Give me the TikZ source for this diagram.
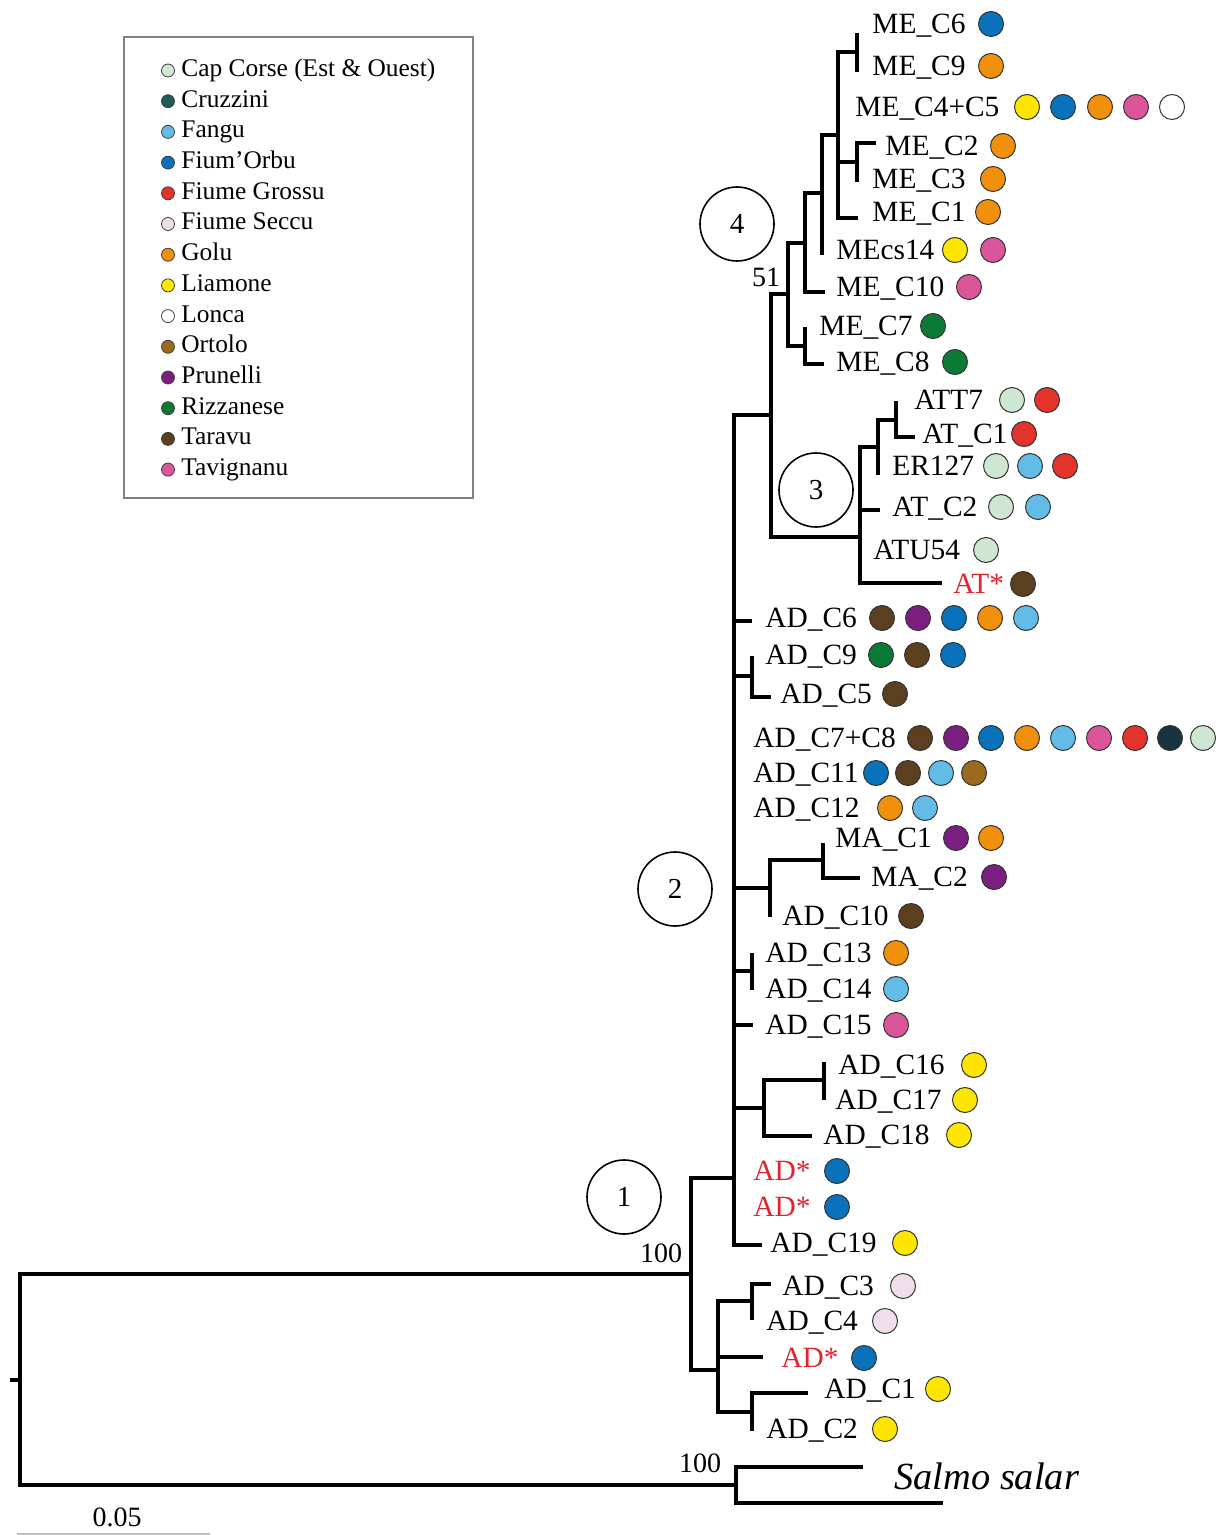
\documentclass[tikz,border=0pt]{standalone}
\usepackage{fontspec}
\setmainfont{Liberation Serif}
\definecolor{capc}{HTML}{CFE6D2}
\definecolor{cruzL}{HTML}{1F5C56}
\definecolor{cruzT}{HTML}{183340}
\definecolor{fangu}{HTML}{62BCE6}
\definecolor{fiumo}{HTML}{0A72BA}
\definecolor{grossu}{HTML}{E3332B}
\definecolor{seccu}{HTML}{F0DFEA}
\definecolor{golu}{HTML}{F0900C}
\definecolor{liam}{HTML}{FFE600}
\definecolor{lonca}{HTML}{FFFFFF}
\definecolor{ortolo}{HTML}{9A6A1E}
\definecolor{prun}{HTML}{7A1F80}
\definecolor{rizz}{HTML}{0C7A37}
\definecolor{tarav}{HTML}{5B3F1F}
\definecolor{tavig}{HTML}{DB559B}
\definecolor{adred}{HTML}{E0242E}
\newcommand\redtxt[1]{\textcolor{adred}{#1}}
\tikzset{
  branch/.style={line width=1.6pt, black},
  lbl/.style={anchor=west, inner sep=0pt, font=\fontsize{14.7}{16}\selectfont, text height=9.7pt, text depth=0pt},
  dot/.style={circle, draw=black!80, line width=0.5pt, minimum size=12.5pt, inner sep=0pt},
  legdot/.style={circle, draw=black!75, line width=0.4pt, minimum size=6.5pt, inner sep=0pt},
  legtxt/.style={anchor=west, inner sep=0pt, font=\fontsize{12.7}{14}\selectfont, text height=8.4pt, text depth=0pt},
  legframe/.style={draw=black!50, line width=0.6pt, minimum width=174.5pt, minimum height=230.5pt, inner sep=0pt},
  boot/.style={inner sep=0pt, font=\fontsize{14}{16}\selectfont},
  clade/.style={circle, draw, line width=0.8pt, minimum size=37pt, inner sep=0pt, font=\fontsize{14.5}{16}\selectfont}
}
\newcommand\leaf[5]{%
  \node[lbl] (#1) at (#2,#3) {#4};
  \foreach \cx/\cc [count=\i from 1] in {#5} {\node[dot, fill=\cc] (#1-\i) at (\cx,#3) {};}
}
\begin{document}
\begin{tikzpicture}[x=0.5pt, y=-0.5pt]
\useasboundingbox (0,0) rectangle (1228,1535);

% ---------- legend ----------
\node[legframe] (legend) at (298.5,267.5) {};
\foreach \t/\c [count=\i from 1] in {Cap Corse (Est \& Ouest)/capc, Cruzzini/cruzL, Fangu/fangu, Fium’Orbu/fiumo, Fiume Grossu/grossu, Fiume Seccu/seccu, Golu/golu, Liamone/liam, Lonca/lonca, Ortolo/ortolo, Prunelli/prun, Rizzanese/rizz, Taravu/tarav, Tavignanu/tavig} {
  \node[legdot, fill=\c] (ld\i) at ({168},{68+30.7*(\i-1)+2.5}) {};
  \node[legtxt] (lt\i) at ({181},{68+30.7*(\i-1)}) {\t};
}

% ---------- tree coordinates ----------
\coordinate (rtk) at (10,1380);
\coordinate (rt) at (20,1380);
\coordinate (ing) at (691,1274);
\coordinate (outg) at (736,1485);
\coordinate (salT) at (863,1467);
\coordinate (salB) at (943,1503);
\coordinate (c2) at (734,1178);
\coordinate (cL) at (718,1370);
\coordinate (c34) at (771,415);
\coordinate (t6) at (752,621);
\coordinate (c95) at (752,676);
\coordinate (t9) at (752,656);
\coordinate (t5) at (771,697);
\coordinate (cma) at (770,888);
\coordinate (cmac) at (823,860);
\coordinate (tma1) at (823,843);
\coordinate (tma2) at (860,878);
\coordinate (t10) at (770,917);
\coordinate (c1314) at (752,971);
\coordinate (t13) at (752,953);
\coordinate (t14) at (752,990);
\coordinate (t15) at (753,1025);
\coordinate (c1618) at (764,1108);
\coordinate (c1617) at (824,1080);
\coordinate (t16) at (824,1062);
\coordinate (t17) at (824,1100);
\coordinate (t18) at (812,1136);
\coordinate (t19) at (762,1245);
\coordinate (c4) at (788,294);
\coordinate (c3) at (860,537);
\coordinate (c4a) at (805,243);
\coordinate (c78) at (805,346);
\coordinate (t7) at (805,327);
\coordinate (t8) at (824,364);
\coordinate (c4b) at (822,193);
\coordinate (tme10) at (825,292);
\coordinate (c4c) at (838,135);
\coordinate (tcs) at (822,255);
\coordinate (c69) at (857,52);
\coordinate (tme6) at (857,33);
\coordinate (tme9) at (857,72);
\coordinate (c23) at (857,162);
\coordinate (tme2) at (876,143);
\coordinate (tme3) at (857,182);
\coordinate (tme1) at (858,218);
\coordinate (c3a) at (878,447);
\coordinate (c3b) at (896,420);
\coordinate (tatt) at (896,401);
\coordinate (tat1) at (915,437);
\coordinate (ter) at (878,475);
\coordinate (tat2) at (880,510);
\coordinate (tats) at (942,583);
\coordinate (cl34) at (752,1301);
\coordinate (tad3) at (771,1284);
\coordinate (tad4) at (752,1320);
\coordinate (tads3) at (763,1357);
\coordinate (cl12) at (752,1412);
\coordinate (tad1) at (808,1393);
\coordinate (tad2) at (752,1431);

% ---------- branches ----------
\draw[branch] (rtk) -- (rt);
\draw[branch] (rt) |- (ing);
\draw[branch] (rt) |- (outg);
\draw[branch] (outg) |- (salT);
\draw[branch] (outg) |- (salB);
\draw[branch] (ing) |- (c2);
\draw[branch] (ing) |- (cL);
\foreach \k in {c34,t6,c95,cma,c1314,t15,c1618,t19} {\draw[branch] (c2) |- (\k);}
\draw[branch] (c95) |- (t9);   \draw[branch] (c95) |- (t5);
\draw[branch] (cma) |- (cmac); \draw[branch] (cma) |- (t10);
\draw[branch] (cmac) |- (tma1); \draw[branch] (cmac) |- (tma2);
\draw[branch] (c1314) |- (t13); \draw[branch] (c1314) |- (t14);
\draw[branch] (c1618) |- (c1617); \draw[branch] (c1618) |- (t18);
\draw[branch] (c1617) |- (t16); \draw[branch] (c1617) |- (t17);
\draw[branch] (c34) |- (c4); \draw[branch] (c34) |- (c3);
\draw[branch] (c4) |- (c4a); \draw[branch] (c4) |- (c78);
\draw[branch] (c78) |- (t7); \draw[branch] (c78) |- (t8);
\draw[branch] (c4a) |- (c4b); \draw[branch] (c4a) |- (tme10);
\draw[branch] (c4b) |- (c4c); \draw[branch] (c4b) |- (tcs);
\draw[branch] (c4c) |- (c69); \draw[branch] (c4c) |- (c23); \draw[branch] (c4c) |- (tme1);
\draw[branch] (c69) |- (tme6); \draw[branch] (c69) |- (tme9);
\draw[branch] (c23) |- (tme2); \draw[branch] (c23) |- (tme3);
\draw[branch] (c3) |- (c3a); \draw[branch] (c3) |- (tat2); \draw[branch] (c3) |- (tats);
\draw[branch] (c3a) |- (c3b); \draw[branch] (c3a) |- (ter);
\draw[branch] (c3b) |- (tatt); \draw[branch] (c3b) |- (tat1);
\draw[branch] (cL) |- (cl34); \draw[branch] (cL) |- (tads3); \draw[branch] (cL) |- (cl12);
\draw[branch] (cl34) |- (tad3); \draw[branch] (cl34) |- (tad4);
\draw[branch] (cl12) |- (tad1); \draw[branch] (cl12) |- (tad2);

% ---------- leaves ----------
\leaf{me6}{872}{24}{ME\_C6}{991/fiumo}
\leaf{me9}{872}{66}{ME\_C9}{991/golu}
\leaf{me45}{855}{107}{ME\_C4+C5}{1027/liam,1063/fiumo,1100/golu,1136/tavig,1172/lonca}
\leaf{me2}{885}{146}{ME\_C2}{1003/golu}
\leaf{me3}{872}{179}{ME\_C3}{993/golu}
\leaf{me1}{872}{212}{ME\_C1}{988/golu}
\leaf{mecs}{836}{250}{MEcs14}{955/liam,993/tavig}
\leaf{me10}{836}{287}{ME\_C10}{969/tavig}
\leaf{me7}{819}{326}{ME\_C7}{933/rizz}
\leaf{me8}{836}{362}{ME\_C8}{955/rizz}
\leaf{att7}{914}{400}{ATT7}{1012/capc,1047/grossu}
\leaf{at1}{922}{434}{AT\_C1}{1024/grossu}
\leaf{er}{892}{466}{ER127}{996/capc,1030/fangu,1065/grossu}
\leaf{at2}{892}{507}{AT\_C2}{1001/capc,1038/fangu}
\leaf{atu}{873}{550}{ATU54}{986/capc}
\leaf{ats}{953}{584}{\redtxt{AT*}}{1023/tarav}
\leaf{ad6}{765}{618}{AD\_C6}{882/tarav,918/prun,954/fiumo,990/golu,1026/fangu}
\leaf{ad9}{765}{655}{AD\_C9}{881/rizz,917/tarav,953/fiumo}
\leaf{ad5}{780}{694}{AD\_C5}{895/tarav}
\leaf{ad78}{753}{738}{AD\_C7+C8}{920/tarav,956/prun,991/fiumo,1027/golu,1063/fangu,1099/tavig,1135/grossu,1170/cruzT,1203/capc}
\leaf{ad11}{753}{773}{AD\_C11}{876/fiumo,908/tarav,941/fangu,974/ortolo}
\leaf{ad12}{753}{808}{AD\_C12}{890/golu,925/fangu}
\leaf{ma1}{835}{838}{MA\_C1}{956/prun,991/golu}
\leaf{ma2}{871}{877}{MA\_C2}{994/prun}
\leaf{ad10}{782}{916}{AD\_C10}{911/tarav}
\leaf{ad13}{765}{953}{AD\_C13}{896/golu}
\leaf{ad14}{765}{989}{AD\_C14}{896/fangu}
\leaf{ad15}{765}{1025}{AD\_C15}{896/tavig}
\leaf{ad16}{838}{1065}{AD\_C16}{974/liam}
\leaf{ad17}{835}{1100}{AD\_C17}{965/liam}
\leaf{ad18}{823}{1135}{AD\_C18}{959/liam}
\leaf{ads1}{753}{1171}{\redtxt{AD*}}{837/fiumo}
\leaf{ads2}{753}{1207}{\redtxt{AD*}}{837/fiumo}
\leaf{ad19}{770}{1243}{AD\_C19}{905/liam}
\leaf{ad3}{782}{1286}{AD\_C3}{903/seccu}
\leaf{ad4}{766}{1321}{AD\_C4}{885/seccu}
\leaf{ads3}{781}{1358}{\redtxt{AD*}}{864/fiumo}
\leaf{ad1}{824}{1389}{AD\_C1}{938/liam}
\leaf{ad2}{766}{1429}{AD\_C2}{885/liam}
\node[anchor=west, inner sep=0pt, font=\fontsize{19.2}{21}\selectfont\itshape, text height=12.7pt, text depth=0pt] (salmo) at (894,1477) {Salmo salar};

% ---------- clade circles and supports ----------
\node[clade] (cl4) at (737,224) {4};
\node[clade] (cl3) at (816,490) {3};
\node[clade] (cl2) at (675,889) {2};
\node[clade] (cl1) at (624,1197) {1};
\node[boot] (bs51) at (766,277) {51};
\node[boot] (bs100a) at (661,1253) {100};
\node[boot] (bs100b) at (700,1463) {100};
\node[boot] (scl) at (117,1517) {0.05};
\coordinate (sbl) at (17,1533.5);
\coordinate (sbr) at (210,1533.5);
\draw[black!25, line width=1pt] (sbl) -- (sbr);
\end{tikzpicture}
\end{document}
